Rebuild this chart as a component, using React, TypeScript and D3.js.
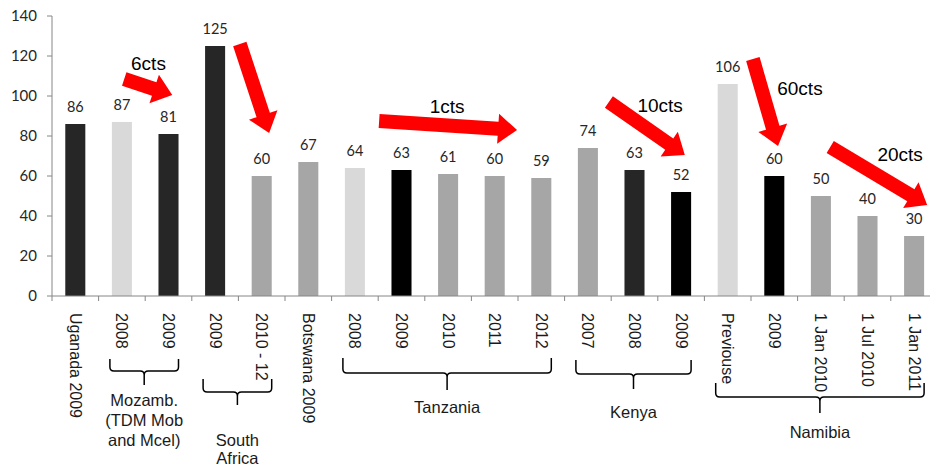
import * as d3 from "d3";

// bar data
const categories = [
  "Uganada 2009", "2008", "2009", "2009", "2010 - 12", "Botswana 2009",
  "2008", "2009", "2010", "2011", "2012", "2007", "2008", "2009",
  "Previouse", "2009", "1 Jan 2010", "1 Jul 2010", "1 Jan 2011",
];
const values = [86, 87, 81, 125, 60, 67, 64, 63, 61, 60, 59, 74, 63, 52, 106, 60, 50, 40, 30];
const shades = [
  "dark", "light", "dark", "dark", "mid", "mid", "light", "black", "mid", "mid",
  "mid", "mid", "dark", "black", "light", "black", "mid", "mid", "mid",
];
const yTicks = [0, 20, 40, 60, 80, 100, 120, 140];

// country groups under the axis (first / last category index)
const groupNames = [["Mozamb.", "(TDM Mob", "and Mcel)"], ["South", "Africa"], ["Tanzania"], ["Kenya"], ["Namibia"]];
const groupFirst = [1, 3, 6, 11, 14];
const groupLast = [2, 4, 10, 13, 18];

// red arrows: tail / tip in (category position, value) units
const arrowLabels = ["6cts", "", "1cts", "10cts", "60cts", "20cts"];
const arrowFrom = [[1.55, 108.5], [4.03, 126], [7.02, 87.5], [11.95, 97], [15.04, 118.5], [16.7, 74.5]];
const arrowTo = [[2.58, 100.5], [4.66, 81.5], [9.98, 83], [13.58, 70.5], [15.58, 75], [18.78, 45.5]];
const arrowText = [[2.07, 113], [0, 0], [8.48, 91.5], [13.05, 92], [16.05, 100.5], [18.2, 67.5]];

// brace layout (px): top of ends, horizontal bar, spike end, first text baseline, line gap
const braceY = [
  [359, 371, 385, 406, 20],
  [379, 392, 405, 446, 18],
  [358, 373, 390, 413, 20],
  [360, 374, 389, 418, 20],
  [383, 397, 413, 438, 20],
];

const W = 930;
const H = 468;
const left = 52;
const step = 46.6;
const y0 = 296;
const y1 = 16;

const shadeColor = d3
  .scaleOrdinal<string, string>()
  .domain(["dark", "light", "mid", "black"])
  .range(["#262626", "#d9d9d9", "#a6a6a6", "#000000"]);

function arrowPath(x0: number, yA: number, x1: number, yB: number) {
  const dx = x1 - x0;
  const dy = yB - yA;
  const len = Math.sqrt(dx * dx + dy * dy);
  const ux = dx / len;
  const uy = dy / len;
  const nx = -uy;
  const ny = ux;
  const sw = 7;
  const hw = 15;
  const hl = 19;
  const bx = x1 - ux * hl;
  const by = yB - uy * hl;
  const pts = [
    [x0 + nx * sw, yA + ny * sw],
    [bx + nx * sw, by + ny * sw],
    [bx + nx * hw, by + ny * hw],
    [x1, yB],
    [bx - nx * hw, by - ny * hw],
    [bx - nx * sw, by - ny * sw],
    [x0 - nx * sw, yA - ny * sw],
  ];
  return "M" + pts.map((p) => p.join(",")).join("L") + "Z";
}

function bracePath(xl: number, xr: number, top: number, bar: number, spike: number) {
  const r = 4;
  const cx = (xl + xr) / 2;
  return [
    `M${xl},${top}`,
    `L${xl},${bar - r}`,
    `Q${xl},${bar} ${xl + r},${bar}`,
    `L${cx - r},${bar}`,
    `Q${cx},${bar} ${cx},${bar + r}`,
    `L${cx},${spike}`,
    `M${cx},${bar + r}`,
    `Q${cx},${bar} ${cx + r},${bar}`,
    `L${xr - r},${bar}`,
    `Q${xr},${bar} ${xr},${bar - r}`,
    `L${xr},${top}`,
  ].join(" ");
}

export default function App() {
  const n = categories.length;
  const x = d3
    .scaleBand<number>()
    .domain(d3.range(n))
    .range([left, left + step * n])
    .paddingInner(0.57)
    .paddingOuter(0.285);
  const xPos = d3.scaleLinear().domain([0, n]).range([left, left + step * n]);
  const y = d3.scaleLinear().domain([0, 140]).range([y0, y1]);

  const labelFont = "Lato, 'Open Sans', sans-serif";
  const textFont = "'Liberation Sans', Arial, sans-serif";

  return (
    <svg
      width={W}
      height={H}
      style={{ position: "absolute", left: 0, top: 0, background: "#fff" }}
    >
      {/* y axis */}
      <line x1={left} x2={left} y1={y(140)} y2={y0} stroke="#868686" />
      {yTicks.map((t) => (
        <g key={t}>
          <line x1={left - 5} x2={left} y1={y(t)} y2={y(t)} stroke="#868686" />
          <text
            x={37}
            y={y(t)}
            dy="0.35em"
            textAnchor="end"
            fontFamily={labelFont}
            fontSize={15}
            fill="#262626"
          >
            {t}
          </text>
        </g>
      ))}

      {/* bars */}
      {values.map((v, i) => (
        <rect
          key={i}
          x={x(i)}
          y={y(v)}
          width={x.bandwidth()}
          height={y0 - y(v)}
          fill={shadeColor(shades[i])}
        />
      ))}
      {values.map((v, i) => (
        <text
          key={"v" + i}
          x={(x(i) as number) + x.bandwidth() / 2}
          y={y(v) - 12}
          textAnchor="middle"
          fontFamily={labelFont}
          fontSize={14.5}
          fill="#262626"
        >
          {v}
        </text>
      ))}

      {/* x axis */}
      <line x1={left} x2={W} y1={y0} y2={y0} stroke="#868686" />
      {d3.range(n + 1).map((i) => (
        <line key={"t" + i} x1={xPos(i)} x2={xPos(i)} y1={y0} y2={y0 + 5} stroke="#868686" />
      ))}
      {categories.map((c, i) => (
        <text
          key={"c" + i}
          transform={`translate(${xPos(i + 0.5)},${y0 + 17}) rotate(90)`}
          dominantBaseline="central"
          fontFamily={textFont}
          fontSize={16}
          fill="#1a1a1a"
        >
          {c}
        </text>
      ))}

      {/* group braces */}
      {groupNames.map((lines, g) => {
        const xl = xPos(groupFirst[g] + 0.5) - 12;
        const xr = xPos(groupLast[g] + 0.5) + 10;
        const [top, bar, spike, base, gap] = braceY[g];
        return (
          <g key={"g" + g}>
            <path d={bracePath(xl, xr, top, bar, spike)} fill="none" stroke="#000" strokeWidth={1.5} />
            {lines.map((l, k) => (
              <text
                key={k}
                x={(xl + xr) / 2}
                y={base + k * gap}
                textAnchor="middle"
                fontFamily={textFont}
                fontSize={16.5}
                fill="#1a1a1a"
              >
                {l}
              </text>
            ))}
          </g>
        );
      })}

      {/* arrows */}
      {arrowFrom.map((f, a) => (
        <path
          key={"a" + a}
          d={arrowPath(xPos(f[0]), y(f[1]), xPos(arrowTo[a][0]), y(arrowTo[a][1]))}
          fill="#ff0000"
        />
      ))}
      {arrowLabels.map((l, a) =>
        l ? (
          <text
            key={"al" + a}
            x={xPos(arrowText[a][0])}
            y={y(arrowText[a][1])}
            textAnchor="middle"
            fontFamily={textFont}
            fontSize={19}
            fill="#000"
          >
            {l}
          </text>
        ) : null
      )}
    </svg>
  );
}
